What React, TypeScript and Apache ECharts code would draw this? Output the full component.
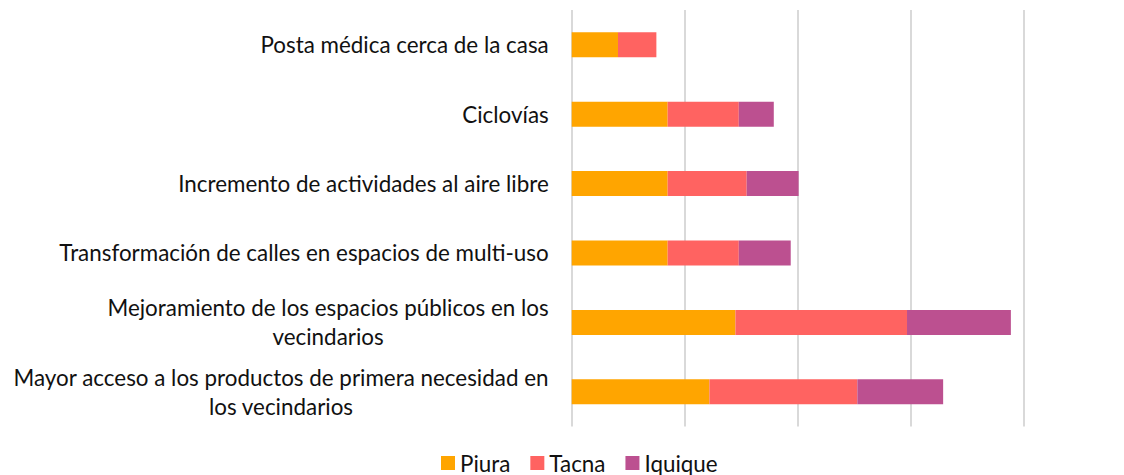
import React, { useEffect, useRef } from "react";
import * as echarts from "echarts";

const categories = [
  "Posta médica cerca de la casa",
  "Ciclovías",
  "Incremento de actividades al aire libre",
  "Transformación de calles en espacios de multi-uso",
  "Mejoramiento de los espacios públicos en los vecindarios",
  "Mayor acceso a los productos de primera necesidad en los vecindarios",
];
const labelLines: Record<string, string[]> = {
  "Mejoramiento de los espacios públicos en los vecindarios": [
    "Mejoramiento de los espacios públicos en los",
    "vecindarios",
  ],
  "Mayor acceso a los productos de primera necesidad en los vecindarios": [
    "Mayor acceso a los productos de primera necesidad en",
    "los vecindarios",
  ],
};
const seriesNames = ["Piura", "Tacna", "Iquique"];
const piura = [4.1, 8.5, 8.5, 8.5, 14.5, 12.2];
const tacna = [3.4, 6.3, 7.0, 6.3, 15.2, 13.1];
const iquique = [0, 3.1, 4.6, 4.6, 9.2, 7.6];
const colors = ["#FFA500", "#FF6361", "#BC5090"];

const FONT = "Lato";
const FS = 22.4;

export default function App() {
  const ref = useRef<HTMLDivElement>(null);
  useEffect(() => {
    if (!ref.current) return;
    const chart = echarts.init(ref.current, null, { renderer: "svg" });
    const values = [piura, tacna, iquique];
    chart.setOption({
      animation: false,
      backgroundColor: "#ffffff",
      color: colors,
      grid: { left: 571.7, right: 100.7, top: 10, bottom: 48.5, containLabel: false },
      legend: {
        data: seriesNames,
        top: 447,
        left: 436,
        itemWidth: 14,
        itemHeight: 14,
        itemGap: 20,
        icon: "rect",
        textStyle: { fontFamily: FONT, fontSize: FS, color: "#111" },
      },
      xAxis: {
        type: "value",
        min: 0,
        max: 40,
        interval: 10,
        axisLabel: { show: false },
        axisLine: { show: false },
        axisTick: { show: false },
        splitLine: { lineStyle: { color: "#d9d9d9", width: 2 } },
      },
      yAxis: {
        type: "category",
        data: categories,
        inverse: true,
        axisLine: { show: false },
        axisTick: { show: false },
        axisLabel: {
          margin: 23,
          formatter: (v: string) =>
            (labelLines[v] || [v]).map((l) => `{c|${l}}`).join("\n"),
          rich: {
            c: {
              align: "center",
              fontFamily: FONT,
              fontSize: FS,
              lineHeight: 29,
              color: "#111",
            },
          },
        },
      },
      series: seriesNames.map((name, i) => ({
        name,
        type: "bar",
        stack: "total",
        barWidth: 25,
        data: values[i],
        itemStyle: { color: colors[i] },
      })),
    });
    return () => chart.dispose();
  }, []);
  return (
    <div
      ref={ref}
      style={{ position: "fixed", left: 0, top: 0, width: 1124, height: 475 }}
    />
  );
}
